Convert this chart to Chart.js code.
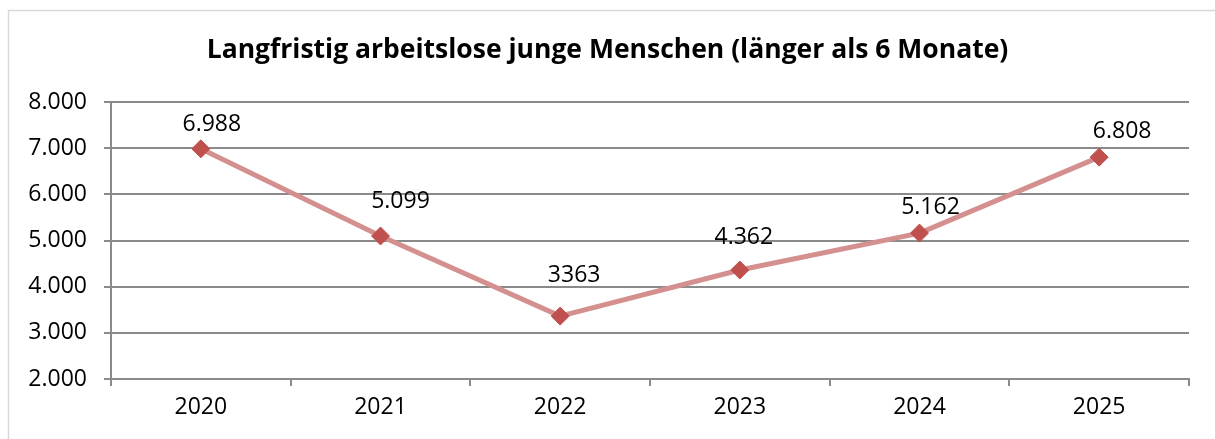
<!DOCTYPE html>
<html>
<head>
<meta charset="utf-8">
<script src="https://cdn.jsdelivr.net/npm/chart.js@4/dist/chart.umd.min.js"></script>
<style>
  html, body { margin: 0; padding: 0; background: #fff; }
  #wrap { position: relative; width: 1215px; height: 439px; }
</style>
</head>
<body>
<div id="wrap"><canvas id="myChart" width="1215" height="439"></canvas></div>
<script>
// chart data
const years = ['2020', '2021', '2022', '2023', '2024', '2025'];
const values = [6988, 5099, 3363, 4362, 5162, 6808];
const valueLabels = ['6.988', '5.099', '3363', '4.362', '5.162', '6.808'];
const yTicks = [2000, 3000, 4000, 5000, 6000, 7000, 8000];

// label nudges (px) so they sit like in the original
const labelShift = [[11, -24], [20, -35], [14, -41], [4, -33], [11, -26], [23, -26]];

const FONT = "'Open Sans', 'Noto Sans', sans-serif";
const GRID = '#8a8a8a';

// outer frame + value labels
const extras = {
  id: 'extras',
  beforeDraw(chart) {
    const ctx = chart.ctx;
    ctx.save();
    ctx.strokeStyle = '#d9d9d9';
    ctx.lineWidth = 1.5;
    ctx.strokeRect(8.5, 10.5, 1215, 440);
    ctx.restore();
  },
  afterDatasetsDraw(chart) {
    const ctx = chart.ctx;
    const meta = chart.getDatasetMeta(0);
    ctx.save();
    ctx.font = '23px ' + FONT;
    ctx.fillStyle = '#000';
    ctx.textAlign = 'center';
    ctx.textBaseline = 'middle';
    meta.data.forEach((pt, i) => {
      const s = labelShift[i];
      ctx.fillText(valueLabels[i], pt.x + s[0], pt.y + s[1]);
    });
    ctx.restore();
  }
};

const fmt = (v) => v.toLocaleString('de-DE');

document.fonts.load('23px "Open Sans"').then(() => {
  new Chart(document.getElementById('myChart').getContext('2d'), {
    type: 'line',
    data: {
      labels: years,
      datasets: [{
        data: values,
        borderColor: '#d4908e',
        borderWidth: 5,
        backgroundColor: '#c0504d',
        pointBackgroundColor: '#c0504d',
        pointBorderColor: '#c0504d',
        pointBorderWidth: 1,
        pointStyle: 'rectRot',
        pointRadius: 9,
        tension: 0
      }]
    },
    options: {
      responsive: false,
      animation: false,
      layout: { padding: { left: 26, right: 26, top: 0, bottom: 0 } },
      plugins: {
        legend: { display: false },
        tooltip: { enabled: false },
        title: {
          display: true,
          text: 'Langfristig arbeitslose junge Menschen (länger als 6 Monate)',
          color: '#000',
          font: { family: FONT, size: 26.5, weight: 'bold', lineHeight: 1.25 },
          padding: { top: 34, bottom: 35 }
        }
      },
      scales: {
        x: {
          offset: true,
          grid: {
            offset: true,
            drawOnChartArea: false,
            color: GRID,
            lineWidth: 2,
            tickLength: 7
          },
          border: { display: true, color: GRID, width: 2 },
          ticks: { color: '#000', font: { family: FONT, size: 23 }, padding: 8 },
          afterFit(scale) { scale.height = 60; }
        },
        y: {
          min: 2000,
          max: 8000,
          afterBuildTicks(scale) { scale.ticks = yTicks.map(v => ({ value: v })); },
          grid: { color: GRID, lineWidth: 2, tickLength: 7 },
          border: { display: true, color: GRID, width: 2 },
          ticks: {
            color: '#000',
            font: { family: FONT, size: 23 },
            padding: 17,
            callback: (v) => fmt(v)
          },
          afterFit(scale) { scale.width = 85; }
        }
      }
    },
    plugins: [extras]
  });
});
</script>
</body>
</html>
